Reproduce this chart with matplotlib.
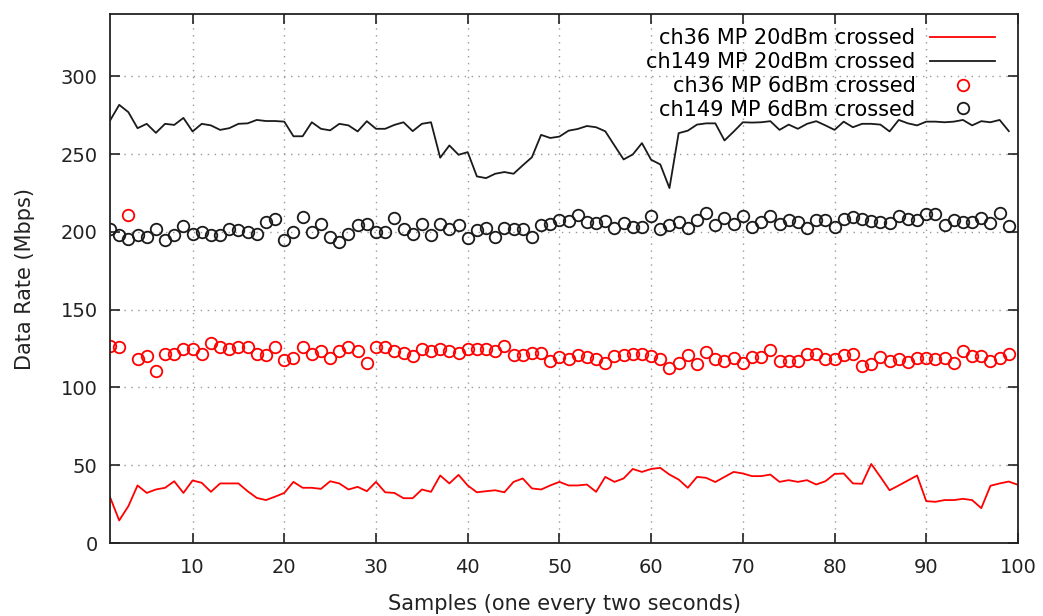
import matplotlib
matplotlib.use("Agg")
import matplotlib.pyplot as plt
import numpy as np

# --- Data ---
ch36_20dbm = [29.5, 14.5, 23.7, 37.0, 32.2, 34.4, 35.5, 39.7, 32.2, 40.2,
              38.7, 32.9, 38.3, 38.3, 38.3, 33.3, 29.0, 27.6, 29.8, 32.2,
              39.3, 35.5, 35.5, 34.8, 39.7, 38.3, 34.4, 36.1, 33.3, 39.3,
              32.6, 32.2, 28.8, 28.8, 34.4, 32.9, 43.4, 38.3, 43.8, 37.0,
              32.6, 33.3, 33.9, 32.6, 39.3, 41.5, 35.1, 34.4, 37.0, 39.3,
              37.0, 37.0, 37.6, 32.9, 42.5, 39.3, 41.5, 47.6, 45.7, 47.6,
              48.3, 44.0, 40.8, 35.5, 42.5, 41.9, 39.2, 42.5, 45.7, 44.7,
              43.0, 43.0, 44.0, 39.3, 40.4, 39.3, 40.4, 37.6, 39.7, 44.4,
              44.7, 38.3, 38.1, 50.8, 42.5, 33.9, 37.0, 40.2, 43.4, 26.9,
              26.5, 27.6, 27.6, 28.4, 27.6, 22.4, 36.8, 38.3, 39.5, 37.4]

ch149_20dbm = [271.6, 281.7, 277.0, 266.7, 269.5, 263.7, 269.5, 268.8, 273.3, 264.6,
               269.5, 268.5, 265.6, 266.7, 269.5, 269.8, 272.0, 271.3, 271.3, 270.9,
               261.5, 261.5, 270.5, 266.3, 265.3, 269.5, 268.5, 264.6, 271.2, 266.3,
               266.3, 268.8, 270.5, 264.8, 269.5, 270.5, 247.7, 255.6, 249.6, 251.3,
               235.7, 234.6, 237.4, 238.5, 237.4, 242.8, 248.0, 262.4, 260.4, 261.3,
               265.1, 266.2, 268.1, 267.3, 264.7, 255.6, 246.6, 249.8, 257.1, 246.4,
               243.4, 228.2, 263.5, 265.1, 269.0, 269.8, 269.8, 258.8, 264.5, 270.5,
               270.3, 270.5, 271.2, 265.6, 269.0, 266.3, 269.5, 271.2, 268.5, 265.6,
               270.9, 267.3, 269.5, 269.5, 269.0, 264.6, 272.0, 269.8, 268.5, 270.9,
               270.9, 270.5, 270.9, 272.0, 268.5, 271.2, 270.5, 272.0, 264.8]

ch36_6dbm = [126.9, 125.8, 210.7, 118.0, 120.5, 110.4, 121.8, 121.8, 124.7, 124.7,
             121.8, 128.6, 125.8, 124.7, 125.8, 125.8, 121.8, 120.7, 126.0, 117.5,
             119.0, 125.8, 121.8, 123.3, 119.0, 123.3, 126.0, 123.3, 115.8, 125.8,
             125.8, 123.3, 122.0, 120.0, 124.7, 123.3, 124.7, 123.3, 122.2, 124.7,
             124.7, 124.7, 123.3, 126.5, 121.1, 121.1, 122.2, 122.2, 116.9, 119.4,
             118.0, 120.7, 119.4, 118.3, 115.8, 120.0, 120.7, 121.5, 121.5, 120.0,
             118.0, 112.6, 115.8, 120.7, 114.8, 122.6, 118.2, 116.9, 119.0, 115.8,
             119.6, 119.4, 123.9, 116.9, 116.9, 116.9, 121.5, 121.5, 118.0, 118.0,
             120.7, 121.5, 114.1, 115.2, 119.6, 116.9, 118.3, 116.2, 119.0, 119.0,
             118.0, 119.0, 115.8, 123.3, 120.0, 120.0, 116.9, 119.0, 121.5]

ch149_6dbm = [202.1, 197.9, 195.7, 197.9, 196.8, 202.1, 194.7, 197.9, 203.8, 198.9,
              200.0, 197.9, 198.1, 202.1, 201.0, 200.0, 198.9, 206.4, 208.5, 194.7,
              200.0, 209.8, 200.0, 205.3, 196.8, 193.6, 198.9, 204.3, 205.3, 200.0,
              200.0, 208.8, 202.1, 198.9, 204.9, 197.9, 204.9, 201.7, 204.3, 196.4,
              201.0, 202.8, 197.0, 202.8, 201.7, 201.7, 196.8, 204.3, 204.9, 207.7,
              207.0, 210.7, 206.4, 205.6, 207.0, 202.8, 206.0, 203.4, 203.4, 210.3,
              202.1, 204.3, 206.6, 202.4, 207.7, 212.0, 204.7, 209.2, 205.3, 210.3,
              203.4, 206.6, 210.3, 205.3, 207.4, 206.6, 202.8, 207.7, 207.7, 203.2,
              208.5, 209.8, 208.5, 207.0, 206.4, 205.6, 210.3, 208.5, 207.4, 211.3,
              211.3, 204.5, 207.4, 206.4, 206.4, 209.2, 205.6, 212.4, 203.8]

x_ticks = [10, 20, 30, 40, 50, 60, 70, 80, 90, 100]
y_ticks = [0, 50, 100, 150, 200, 250, 300]


def generate_graph(output_path):
    plt.rcParams['font.family'] = ['DejaVu Sans']

    fig = plt.figure(figsize=(10.43, 6.16), dpi=100)
    ax = fig.add_axes([0.1055, 0.1185, 0.8705, 0.8585])

    # Samples are numbered from 1
    x100 = np.arange(1, len(ch36_20dbm) + 1)
    x99 = np.arange(1, len(ch149_20dbm) + 1)

    red = '#ff0000'
    dark = '#1a1a1a'
    ax.plot(x100, ch36_20dbm, color=red, lw=1.3, label='ch36 MP 20dBm crossed')
    ax.plot(x99, ch149_20dbm, color=dark, lw=1.3, label='ch149 MP 20dBm crossed')
    ax.plot(x99, ch36_6dbm, ls='none', marker='o', ms=8.3, mfc='none',
            mec=red, mew=1.3, label='ch36 MP 6dBm crossed')
    ax.plot(x99, ch149_6dbm, ls='none', marker='o', ms=8.3, mfc='none',
            mec=dark, mew=1.3, label='ch149 MP 6dBm crossed')

    # --- Axes styling (gnuplot look) ---
    ax.set_xlim(1, 100)
    ax.set_ylim(0, 340)
    ax.set_xticks(x_ticks)
    ax.set_yticks(y_ticks)
    ax.tick_params(direction='in', length=7, width=1.2, top=True, right=True,
                   labelsize=14, colors='#222222')
    ax.tick_params(axis='x', pad=11)
    ax.tick_params(axis='y', pad=9)
    ax.grid(True, ls=(0, (1, 4)), color='#999999', lw=1)
    for s in ax.spines.values():
        s.set_linewidth(1.3)
        s.set_color('#222222')

    ax.set_xlabel('Samples (one every two seconds)', fontsize=15, color='#222222', labelpad=12)
    ax.set_ylabel('Data Rate (Mbps)', fontsize=15, color='#222222', labelpad=18)

    # legend: right-aligned text, key on the right
    ax.legend(loc='upper right', frameon=False, markerfirst=False, fontsize=15,
              handlelength=3.1, labelspacing=0.18, borderaxespad=0, borderpad=0,
              handletextpad=0.72, bbox_to_anchor=(0.9747, 0.973))

    fig.savefig(output_path, dpi=100)


if __name__ == "__main__":
    generate_graph('out.png')
